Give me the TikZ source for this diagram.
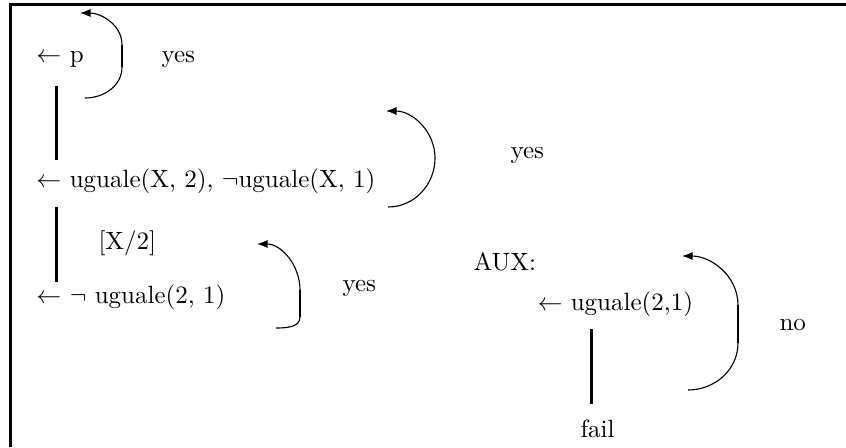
\documentclass[tikz,border=0pt]{standalone}
\usetikzlibrary{arrows.meta}
\begin{document}
\begin{tikzpicture}[x=0.4pt,y=-0.4pt,
  lbl/.style={anchor=base west,inner sep=0pt,font=\fontsize{10}{12}\selectfont},
  loop/.style={line width=0.45pt,-{Latex[length=4.2pt,width=3.2pt]}},
  thk/.style={line width=1.2pt},
  mid/.style={line width=0.9pt}]
\useasboundingbox (0,0) rectangle (846,447);
% frame
\draw[line width=1.2pt] (10.5,447) -- (10.5,4.5) -- (846,4.5);
% texts
\node[lbl] (g0) at (36,62) {$\leftarrow$ p};
\node[lbl] (y0) at (161,62) {yes};
\node[lbl] (g1) at (36,187) {$\leftarrow$ uguale(X, 2), $\neg$uguale(X, 1)};
\node[lbl] (y1) at (510,158) {yes};
\node[lbl] (sub) at (98,249) {[X/2]};
\node[lbl] (g2) at (36,303) {$\leftarrow$ $\neg$ uguale(2, 1)};
\node[lbl] (y2) at (342,291) {yes};
\node[lbl] (aux) at (473,270) {AUX:};
\node[lbl] (g3) at (537,310) {$\leftarrow$ uguale(2,1)};
\node[lbl] (n3) at (779,330) {no};
\node[lbl] (fl) at (580,437) {fail};
% derivation lines
\coordinate (a0) at (56,86); \coordinate (b0) at (56,160);
\coordinate (a1) at (56,207); \coordinate (b1) at (56,282);
\coordinate (a3) at (591,329); \coordinate (b3) at (591,404);
\draw[thk] (a0) -- (b0);
\draw[thk] (a1) -- (b1);
\draw[thk] (a3) -- (b3);
% loops
\coordinate (s0) at (85,98); \coordinate (m0a) at (122,67); \coordinate (m0b) at (122,45); \coordinate (t0) at (80,13);
\draw[loop] (s0) to[out=0,in=-90] (m0a) -- (m0b) to[out=90,in=0] (t0);
\draw[mid] (m0a) -- (m0b);
\coordinate (s1) at (388,207); \coordinate (m1) at (435,158); \coordinate (t1) at (386,111);
\draw[loop] (s1) to[out=0,in=-90] (m1) to[out=90,in=0] (t1);
\coordinate (s2) at (276,328); \coordinate (m2a) at (300,317); \coordinate (m2b) at (300,290); \coordinate (t2) at (257,244);
\draw[loop] (s2) to[out=0,in=-90] (m2a) -- (m2b) to[out=90,in=0] (t2);
\draw[mid] (m2a) -- (m2b);
\coordinate (s3) at (688,390); \coordinate (m3a) at (738,343); \coordinate (m3b) at (738,305); \coordinate (t3) at (682,256);
\draw[loop] (s3) to[out=0,in=-90] (m3a) -- (m3b) to[out=90,in=0] (t3);
\draw[mid] (m3a) -- (m3b);
\end{tikzpicture}
\end{document}
